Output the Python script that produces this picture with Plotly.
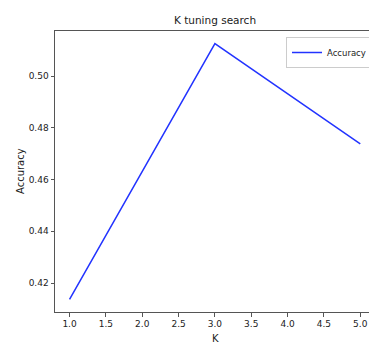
import plotly.graph_objects as go

k_values = [1, 3, 5]
accuracy = [0.4137, 0.5125, 0.4738]
y_ticks = [0.42, 0.44, 0.46, 0.48, 0.50]
x_ticks = [1.0, 1.5, 2.0, 2.5, 3.0, 3.5, 4.0, 4.5, 5.0]

fig = go.Figure()
fig.add_trace(go.Scatter(x=k_values, y=accuracy, mode="lines", name="Accuracy",
                         line=dict(color="#2233ff", width=1.5)))

tick_font = dict(family="DejaVu Sans", size=9, color="#222")
label_font = dict(family="DejaVu Sans", size=10, color="#222")
fig.update_layout(
    width=369, height=345,
    margin=dict(l=55, r=0, t=31, b=33, autoexpand=False),
    paper_bgcolor="white", plot_bgcolor="white",
    title=dict(text="K tuning search", x=215 / 369, xanchor="center",
               y=1 - 20 / 345, yanchor="middle",
               font=dict(family="DejaVu Sans", size=10.5, color="#222")),
    font=dict(family="DejaVu Sans", size=9, color="#222"),
    showlegend=True,
    legend=dict(x=(286 - 55) / 314, xanchor="left", y=1 - 6 / 281, yanchor="top",
                bgcolor="white", bordercolor="#cccccc", borderwidth=1,
                font=dict(family="DejaVu Sans", size=8.5, color="#222"),
                itemwidth=30, tracegroupgap=0),
    xaxis=dict(range=[0.8, 5.12], tickvals=x_ticks,
               ticktext=[f"{v:.1f}" for v in x_ticks],
               showgrid=False, zeroline=False, showline=True, linecolor="#555",
               linewidth=1, mirror=True, ticks="outside", ticklen=3.5,
               tickcolor="#555", tickfont=tick_font, automargin=False),
    yaxis=dict(range=[0.4088, 0.5174], tickvals=y_ticks,
               ticktext=[f"{v:.2f}" for v in y_ticks],
               showgrid=False, zeroline=False, showline=True, linecolor="#555",
               linewidth=1, mirror=False, ticks="outside", ticklen=3.5,
               tickcolor="#555", tickfont=tick_font, automargin=False),
    annotations=[
        dict(text="K", xref="paper", yref="paper", x=(215 - 55) / 314,
             y=-(340 - 314) / 281, xanchor="center", yanchor="middle",
             showarrow=False, font=label_font),
        dict(text="Accuracy", xref="paper", yref="paper", x=-(55 - 20) / 314,
             y=(314 - 173) / 281, xanchor="center", yanchor="middle",
             textangle=-90, showarrow=False, font=label_font),
    ],
)

fig.write_html("out.html")
